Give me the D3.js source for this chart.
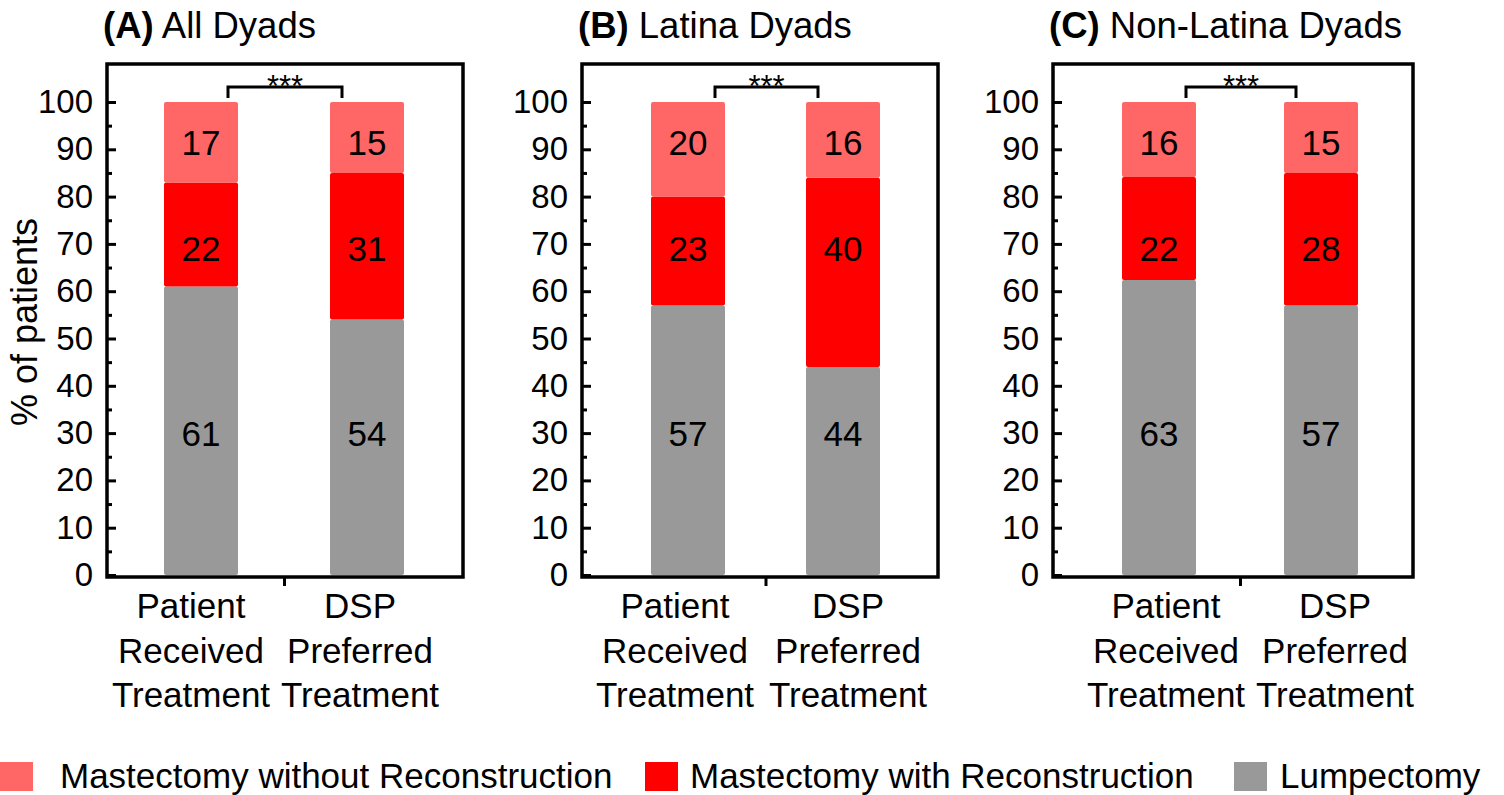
<!DOCTYPE html>
<html>
<head>
<meta charset="utf-8">
<script src="https://cdn.jsdelivr.net/npm/d3@7"></script>
<style>
  html, body { margin: 0; padding: 0; background: #fff; }
  svg { display: block; font-family: "Liberation Sans", Arial, Helvetica, sans-serif; }
</style>
</head>
<body>
<svg id="chart" width="1504" height="795"></svg>
<script>
// ---------------- DATA ----------------
const panelLetters = ["(A)", "(B)", "(C)"];
const panelTitles = ["All Dyads", "Latina Dyads", "Non-Latina Dyads"];
const categories = ["Patient Received Treatment", "DSP Preferred Treatment"];
const categoryLines = [["Patient", "Received", "Treatment"], ["DSP", "Preferred", "Treatment"]];
const seriesKeys = ["Lumpectomy", "Mastectomy with Reconstruction", "Mastectomy without Reconstruction"];
// values per panel: [received, preferred]
const lumpectomy       = [[61, 54], [57, 44], [63, 57]];
const mastWithRecon    = [[22, 31], [23, 40], [22, 28]];
const mastWithoutRecon = [[17, 15], [20, 16], [16, 15]];
const significance = ["***", "***", "***"];
const yTicks = [0, 10, 20, 30, 40, 50, 60, 70, 80, 90, 100];
const yMinorTicks = [5, 15, 25, 35, 45, 55, 65, 75, 85, 95];
const yAxisTitle = "% of patients";
const legendOrder = ["Mastectomy without Reconstruction", "Mastectomy with Reconstruction", "Lumpectomy"];

// ---------------- STYLE / LAYOUT ----------------
const colors = {
  "Lumpectomy": "#999999",
  "Mastectomy with Reconstruction": "#ff0000",
  "Mastectomy without Reconstruction": "#ff6666"
};
// vertical position (in % units) where each series' value label sits
const labelLevel = {
  "Lumpectomy": 30,
  "Mastectomy with Reconstruction": 69,
  "Mastectomy without Reconstruction": 91.5
};
const layout = [
  { left: 107, right: 463, bars: [201, 367], labels: [191, 360] },
  { left: 582, right: 938, bars: [688, 843], labels: [675, 848] },
  { left: 1053, right: 1413, bars: [1159, 1321], labels: [1166, 1335] }
];
const frameTop = 64, frameBottom = 577;
const barWidth = 74;

const svg = d3.select("#chart");
const y = d3.scaleLinear().domain([0, 100]).range([575, 102]);

const stack = d3.stack().keys(seriesKeys).offset(d3.stackOffsetExpand);

panelLetters.forEach((letter, p) => {
  const L = layout[p];
  const g = svg.append("g");
  const x = d3.scaleLinear().domain([0, 1]).range(L.bars);
  const xl = d3.scaleLinear().domain([0, 1]).range(L.labels);

  const rows = categories.map((c, i) => ({
    category: c,
    "Lumpectomy": lumpectomy[p][i],
    "Mastectomy with Reconstruction": mastWithRecon[p][i],
    "Mastectomy without Reconstruction": mastWithoutRecon[p][i]
  }));
  const stacked = stack(rows);

  // bars
  stacked.forEach(layer => {
    const key = layer.key;
    g.selectAll(null).data(layer).enter().append("rect")
      .attr("x", (d, i) => x(i) - barWidth / 2)
      .attr("width", barWidth)
      .attr("y", d => y(d[1] * 100))
      .attr("height", d => y(d[0] * 100) - y(d[1] * 100))
      .attr("rx", 2)
      .attr("fill", colors[key]);
  });
  stacked.forEach(layer => {
    const key = layer.key;
    g.selectAll(null).data(layer).enter().append("text")
      .attr("x", (d, i) => x(i))
      .attr("y", y(labelLevel[key]))
      .attr("dy", "0.36em")
      .attr("text-anchor", "middle")
      .attr("font-size", 35)
      .attr("fill", "#000")
      .text(d => d.data[key]);
  });

  // y axis major
  const yAxis = d3.axisLeft(y).tickValues(yTicks).tickSizeInner(-9).tickSizeOuter(0).tickPadding(14);
  const ya = g.append("g").attr("transform", `translate(${L.left},0)`).call(yAxis);
  ya.select(".domain").remove();
  ya.selectAll(".tick line").attr("stroke", "#000").attr("stroke-width", 3);
  ya.selectAll(".tick text").attr("font-size", 33).attr("font-family", "Liberation Sans, Arial, sans-serif").attr("fill", "#000");
  // y axis minor
  const yMinor = d3.axisLeft(y).tickValues(yMinorTicks).tickSizeInner(-5).tickSizeOuter(0).tickFormat("");
  const ym = g.append("g").attr("transform", `translate(${L.left},0)`).call(yMinor);
  ym.select(".domain").remove();
  ym.selectAll(".tick line").attr("stroke", "#000").attr("stroke-width", 3);

  // x axis mid tick
  const xAxis = d3.axisBottom(x).tickValues([0.5]).tickSizeInner(9).tickSizeOuter(0).tickFormat("");
  const xa = g.append("g").attr("transform", `translate(0,${frameBottom})`).call(xAxis);
  xa.select(".domain").remove();
  xa.selectAll(".tick line").attr("stroke", "#000").attr("stroke-width", 3);

  // frame
  g.append("rect")
    .attr("x", L.left).attr("y", frameTop)
    .attr("width", L.right - L.left).attr("height", frameBottom - frameTop)
    .attr("fill", "none").attr("stroke", "#000").attr("stroke-width", 3.5);

  // category labels
  categoryLines.forEach((lines, i) => {
    const t = g.append("text")
      .attr("x", xl(i)).attr("y", 618)
      .attr("text-anchor", "middle").attr("font-size", 35).attr("fill", "#000");
    lines.forEach((ln, k) => {
      t.append("tspan").attr("x", xl(i)).attr("y", 618 + k * 44.5).text(ln);
    });
  });

  // significance bracket
  const bx0 = x(0) + 27, bx1 = x(1) - 25;
  g.append("path")
    .attr("d", `M${bx0},98 V87 H${bx1} V98`)
    .attr("fill", "none").attr("stroke", "#000").attr("stroke-width", 3);
  g.append("text")
    .attr("x", (bx0 + bx1) / 2).attr("y", 97)
    .attr("text-anchor", "middle").attr("font-size", 31).attr("fill", "#000")
    .text(significance[p]);

  // title
  const tt = g.append("text").attr("x", L.left - 4).attr("y", 38).attr("font-size", 36.5).attr("fill", "#000");
  tt.append("tspan").attr("font-weight", "bold").text(letter);
  tt.append("tspan").text(" " + panelTitles[p]);
});

// y axis title
svg.append("text")
  .attr("transform", "translate(37,322) rotate(-90)")
  .attr("text-anchor", "middle").attr("font-size", 36).attr("fill", "#000")
  .text(yAxisTitle);

// legend
const legendPos = [{ sx: 0, tx: 60 }, { sx: 645, tx: 690 }, { sx: 1234, tx: 1280 }];
legendOrder.forEach((key, i) => {
  const lg = svg.append("g");
  lg.append("rect")
    .attr("x", legendPos[i].sx).attr("y", 762)
    .attr("width", 33).attr("height", 29)
    .attr("fill", colors[key]);
  lg.append("text")
    .attr("x", legendPos[i].tx).attr("y", 788)
    .attr("font-size", 35).attr("fill", "#000")
    .text(key);
});
</script>
</body>
</html>
